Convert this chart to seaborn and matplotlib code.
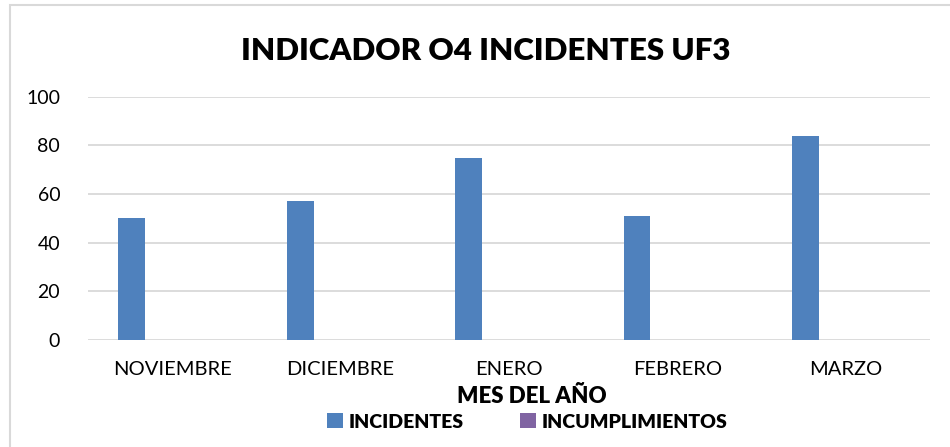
import matplotlib
matplotlib.use("Agg")
import matplotlib.pyplot as plt
from matplotlib.patches import Rectangle, Patch
import seaborn as sns
import pandas as pd

meses = ["NOVIEMBRE", "DICIEMBRE", "ENERO", "FEBRERO", "MARZO"]
incidentes = [50, 57, 75, 51, 84]
incumplimientos = [0, 0, 0, 0, 0]
series = ["INCIDENTES", "INCUMPLIMIENTOS"]
colores = ["#4F81BD", "#8064A2"]
yticks = [0, 20, 40, 60, 80, 100]

df = pd.DataFrame({
    "mes": meses * 2,
    "valor": incidentes + incumplimientos,
    "serie": [series[0]] * len(meses) + [series[1]] * len(meses),
})

sns.set_theme(style="white")
plt.rcParams["font.family"] = ["Lato", "DejaVu Sans"]

fig = plt.figure(figsize=(9.5, 4.47), dpi=100)
ax = fig.add_axes([0.0926, 0.2394, 0.8864, 0.5443])

sns.barplot(data=df, x="mes", y="valor", hue="serie", hue_order=series,
            palette=colores, saturation=1, width=0.32, ax=ax, legend=False,
            edgecolor="none", linewidth=0)

# move each group to the left so the pair sits left of the category centre
for p in ax.patches:
    p.set_x(p.get_x() - 0.16)

ax.set_ylim(0, 100)
ax.set_xlim(-0.5, len(meses) - 0.5)
ax.set_yticks(yticks)
ax.set_yticklabels([str(v) for v in yticks], fontsize=14, color="#000000")
ax.tick_params(axis="x", labelsize=14.5, colors="#000000", length=0, pad=15)
ax.tick_params(axis="y", length=0, pad=20)
ax.yaxis.grid(True, color="#D9D9D9", linewidth=1.3)
ax.set_axisbelow(True)
for s in ax.spines.values():
    s.set_visible(False)
ax.set_xlabel("")
ax.set_ylabel("")

fig.text(0.511, 0.885, "INDICADOR O4 INCIDENTES UF3", ha="center", va="center",
         fontsize=22.5, fontweight="heavy", color="#000000")
fig.text(0.56, 0.112, "MES DEL AÑO", ha="center", va="center",
         fontsize=16, fontweight="heavy", color="#000000")

handles = [Patch(facecolor=c, edgecolor="none") for c in colores]
leg = fig.legend(handles, series, loc="center", bbox_to_anchor=(0.555, 0.056),
                 ncol=2, frameon=False, fontsize=14,
                 handlelength=0.8, handleheight=0.8, handletextpad=0.3,
                 columnspacing=2.9)
for t in leg.get_texts():
    t.set_fontweight("heavy")
    t.set_color("#000000")

# chart frame
fig.patches.append(Rectangle((10 / 950, -0.1), 1.2, 1.0 - 5 / 447 + 0.1,
                             transform=fig.transFigure, fill=False,
                             edgecolor="#D9D9D9", linewidth=1.5))

fig.savefig("out.png", dpi=100, facecolor="white")
